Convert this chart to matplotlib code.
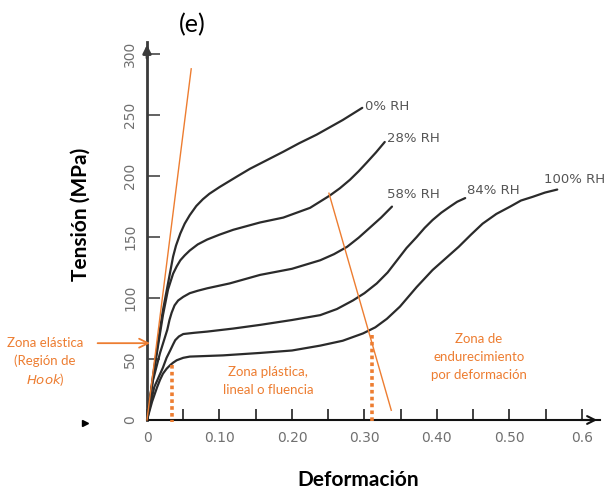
import matplotlib.pyplot as plt

# --------------------------------------------------------------------------
# data (e): stress-strain curves at several RH

rh_labels = ['0% RH', '28% RH', '58% RH', '84% RH', '100% RH']

strain_0 = [0, 0.008, 0.015, 0.022, 0.029, 0.036, 0.04, 0.046, 0.052, 0.059, 0.068, 0.077, 0.086, 0.1,
            0.125, 0.142, 0.165, 0.188, 0.21, 0.234, 0.27, 0.297]
stress_0 = [0, 35, 63, 90, 112, 134, 143, 153, 161, 168, 175.5, 181, 185.5, 191,
            200, 206, 213, 220, 227, 234, 246, 256]

strain_28 = [0, 0.008, 0.015, 0.022, 0.029, 0.036, 0.041, 0.046, 0.052, 0.059, 0.07, 0.083, 0.1, 0.119,
             0.156, 0.188, 0.225, 0.252, 0.266, 0.28, 0.292, 0.303, 0.316, 0.328]
stress_28 = [0, 33, 60, 86, 107, 120, 126, 131, 135, 139, 144, 148, 152, 156,
             162, 166, 174, 184, 190, 197, 204, 211, 219.5, 228]

strain_58 = [0, 0.008, 0.018, 0.028, 0.031, 0.034, 0.038, 0.043, 0.05, 0.059, 0.07, 0.083, 0.114, 0.156,
             0.2, 0.239, 0.258, 0.276, 0.292, 0.308, 0.323, 0.338]
stress_58 = [0, 32, 55, 74, 82, 88, 94, 98, 101, 104, 106, 108, 112, 119,
             124, 131, 136, 142, 149.5, 158, 166, 175]

strain_84 = [0, 0.01, 0.022, 0.027, 0.032, 0.036, 0.039, 0.044, 0.05, 0.065, 0.083, 0.119, 0.156, 0.2,
             0.239, 0.262, 0.284, 0.3, 0.317, 0.332, 0.345, 0.358, 0.372, 0.383, 0.394, 0.406, 0.418,
             0.428, 0.439]
stress_84 = [0, 27, 43, 51, 57, 62, 65.5, 68.5, 70.5, 71.5, 72.5, 75, 78, 82,
             86, 91, 98, 104, 112, 121, 131, 141, 150, 157.5, 164, 170, 175,
             179, 182]

strain_100 = [0, 0.007, 0.014, 0.018, 0.022, 0.027, 0.032, 0.036, 0.041, 0.05, 0.059, 0.105, 0.156, 0.2,
              0.239, 0.27, 0.298, 0.315, 0.331, 0.349, 0.372, 0.394, 0.43, 0.447, 0.463, 0.482, 0.501,
              0.516, 0.532, 0.549, 0.566]
stress_100 = [0, 15, 27, 33, 38, 42, 45, 47, 49, 51, 52, 53, 55, 57,
              61, 65, 71, 76, 83, 93, 109, 123, 142, 152, 161, 169, 175,
              180, 183, 186.5, 189]

# where each RH label sits (data coords, left edge / middle)
label_x = [0.301, 0.331, 0.331, 0.441, 0.548]
label_y = [257, 231, 185, 188.5, 197.5]

# orange guide lines
elastic_x = [0, 0.061]
elastic_y = [0, 288]
cut_x = [0.251, 0.337]
cut_y = [186, 8]
yield_x = [0.0345, 0.31]
yield_top = [45, 70]

x_ticklabels = ['0', '0.10', '0.20', '0.30', '0.40', '0.50', '0.6']
y_ticks = [0, 50, 100, 150, 200, 250, 300]

ORANGE = '#ED7D31'
W, H = 604, 491


def fx(px):
    return px / W


def fy(py):
    return 1 - py / H


fig = plt.figure(figsize=(6.04, 4.91), dpi=100)
ax = fig.add_axes([fx(147), fy(420), (600 - 147) / W, (420 - 42) / H])
ax.set_xlim(0, 0.625)
ax.set_ylim(0, 310)

curves = [(strain_0, stress_0), (strain_28, stress_28), (strain_58, stress_58),
          (strain_84, stress_84), (strain_100, stress_100)]
for (sx, sy), lab, lx, ly in zip(curves, rh_labels, label_x, label_y):
    ax.plot(sx, sy, color='#2b2b2b', lw=1.6, solid_capstyle='round', solid_joinstyle='round', zorder=3)
    ax.text(lx, ly, lab, fontsize=9.5, color='#555555', va='center', ha='left', clip_on=False)

# --------------------------------------------------------------------------
# orange annotations

ax.plot(elastic_x, elastic_y, color=ORANGE, lw=1.0, zorder=4, clip_on=False)
ax.plot(cut_x, cut_y, color=ORANGE, lw=1.0, zorder=4, clip_on=False)
for xv, top in zip(yield_x, yield_top):
    ax.plot([xv, xv], [top, -2], color=ORANGE, lw=2.6, ls=(0, (1.0, 0.9)), zorder=4, clip_on=False)

ax.annotate('', xy=(0.008, 63), xytext=(-0.072, 63),
            arrowprops=dict(arrowstyle='->', color=ORANGE, lw=1.3, mutation_scale=16),
            annotation_clip=False)

tkw = dict(family='Lato', color=ORANGE, fontsize=9.5, ha='center', va='center')
fig.text(fx(45), fy(343), 'Zona elástica', **tkw)
fig.text(fx(45), fy(361), '(Región de', **tkw)
fig.text(fx(45), fy(379), r'$\mathit{Hook}$)', **tkw)
fig.text(fx(268), fy(372), 'Zona plástica,', **tkw)
fig.text(fx(268), fy(390), 'lineal o fluencia', **tkw)
fig.text(fx(479), fy(339), 'Zona de', **tkw)
fig.text(fx(479), fy(357), 'endurecimiento', **tkw)
fig.text(fx(479), fy(375), 'por deformación', **tkw)

# --------------------------------------------------------------------------
# axes look

for s in ['top', 'right']:
    ax.spines[s].set_visible(False)
ax.spines['left'].set_color('#3a3a3a')
ax.spines['left'].set_linewidth(2.0)
ax.spines['bottom'].set_color('#111111')
ax.spines['bottom'].set_linewidth(1.5)
ax.annotate('', xy=(0, 1.0), xytext=(0, 0.95), xycoords='axes fraction',
            arrowprops=dict(arrowstyle='-|>', color='#3a3a3a', lw=2.0, mutation_scale=12))
ax.annotate('', xy=(1.0, 0), xytext=(0.95, 0), xycoords='axes fraction',
            arrowprops=dict(arrowstyle='->', color='#111111', lw=1.5, mutation_scale=14))

ax.set_xticks([t / 20 for t in range(13)])
ax.set_xticklabels(['' if i % 2 else x_ticklabels[i // 2] for i in range(13)])
ax.set_yticks(y_ticks)
ax.set_yticklabels([str(v) for v in y_ticks], rotation=90, va='center')
ax.tick_params(axis='x', direction='in', length=8, width=1.3, color='#333333',
               labelsize=10, labelcolor='#707070', pad=8)
ax.tick_params(axis='y', direction='in', length=9, width=1.3, color='#555555',
               labelsize=10, labelcolor='#707070', pad=7)

# small stray marker left of the axis
ax.plot([-0.0855], [-2.5], marker='>', color='black', ms=5, clip_on=False)

fig.text(fx(81), fy(214), 'Tensión (MPa)', family='Lato', fontweight='bold', fontsize=15,
         rotation=90, ha='center', va='center')
fig.text(fx(358), fy(480), 'Deformación', family='Lato', fontweight='bold', fontsize=15,
         ha='center', va='center')
fig.text(fx(192), fy(25), '(e)', family='Lato', fontsize=18, ha='center', va='center')

fig.savefig('out.png', dpi=100)
